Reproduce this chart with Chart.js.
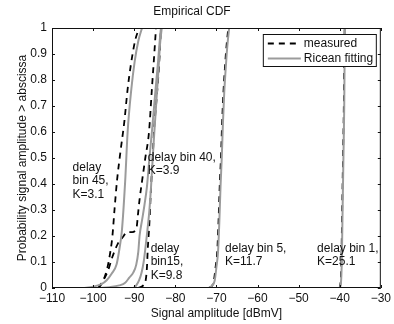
<!DOCTYPE html>
<html>
<head>
<meta charset="utf-8">
<script src="https://cdn.jsdelivr.net/npm/chart.js@4.4.1/dist/chart.umd.min.js"></script>
<style>
  html, body { margin: 0; padding: 0; background: #fff; }
</style>
</head>
<body>
<canvas id="cdf" width="394" height="324"></canvas>
<script>
// axis ticks
const xTicks = [-110, -100, -90, -80, -70, -60, -50, -40, -30];
const yTicks = [0, 0.1, 0.2, 0.3, 0.4, 0.5, 0.6, 0.7, 0.8, 0.9, 1];

/* ===========================
   CURVES (amplitude dBmV, probability)
=========================== */

// delay bin 45
const bin45MeasX = [-98.6, -97.5, -96.5, -95.8, -95.3, -94.8, -94.2, -93.3, -92.4, -91.6, -90.8, -89.8, -88.8];
const bin45MeasY = [0, 0.03, 0.08, 0.14, 0.2, 0.3, 0.41, 0.53, 0.64, 0.765, 0.86, 0.95, 1];
const bin45FitX = [-102.5, -100, -98, -96.7, -95.5, -94.3, -93.6, -93.0, -92.2, -91.6, -90.7, -89.9, -89.0, -88.1];
const bin45FitY = [0, 0.005, 0.015, 0.03, 0.055, 0.09, 0.15, 0.22, 0.41, 0.6, 0.765, 0.87, 0.95, 1];

// delay bin 40
const bin40MeasX = [-98.8, -97.5, -96.3, -95.3, -94.0, -92.8, -91.7, -90.5, -89.4, -89.1, -88.7, -88.1, -87.3, -86.4, -85.7, -85.2, -84.7];
const bin40MeasY = [0, 0.03, 0.07, 0.12, 0.17, 0.195, 0.215, 0.215, 0.235, 0.28, 0.34, 0.41, 0.5, 0.6, 0.765, 0.88, 1];
const bin40FitX = [-98.5, -96, -93.6, -92.2, -91.2, -90.2, -89.5, -89.0, -88.7, -88.1, -87.5, -86.9, -86.3, -85.7, -84.8, -84.2, -83.8, -83.5];
const bin40FitY = [0, 0.003, 0.01, 0.02, 0.04, 0.06, 0.09, 0.14, 0.2, 0.26, 0.32, 0.39, 0.5, 0.6, 0.765, 0.87, 0.95, 1];

// delay bin 15
const bin15MeasX = [-89.0, -87.8, -87.2, -86.9, -86.7, -86.5, -86.3, -85.9, -85.5, -85.2, -84.7, -84.2, -83.8, -83.5];
const bin15MeasY = [0, 0.01, 0.03, 0.08, 0.15, 0.2, 0.25, 0.39, 0.5, 0.6, 0.7, 0.8, 0.9, 1];
const bin15FitX = [-90.2, -89.5, -88.8, -88.2, -87.7, -87.3, -86.8, -86.3, -85.9, -85.5, -85.1, -84.6, -84.1, -83.7, -83.3];
const bin15FitY = [0, 0.01, 0.03, 0.06, 0.1, 0.15, 0.22, 0.3, 0.39, 0.5, 0.6, 0.72, 0.84, 0.94, 1];

// delay bin 5
const bin5MeasX = [-71.8, -71.0, -70.6, -70.2, -69.8, -69.5, -69.2, -68.9, -68.6, -68.3, -68.0, -67.7, -67.4, -67.1];
const bin5FitX = [-72.0, -71.0, -70.4, -70.0, -69.6, -69.3, -69.0, -68.7, -68.4, -68.1, -67.8, -67.5, -67.2, -66.9];
const bin5Y = [0, 0.01, 0.03, 0.08, 0.14, 0.25, 0.39, 0.5, 0.64, 0.75, 0.83, 0.9, 0.955, 1];

// delay bin 1
const bin1MeasX = [-40.1, -39.8, -39.6, -39.4, -39.2, -39.0, -38.9, -38.8];
const bin1FitX = [-40.0, -39.7, -39.5, -39.3, -39.1, -38.9, -38.8, -38.7];
const bin1Y = [0, 0.02, 0.1, 0.3, 0.5, 0.7, 0.9, 1];

// text labels: left x, first line y (data units)
const notes = [
  { x: -105.0, y: 0.464, lines: ['delay', 'bin 45,', 'K=3.1'] },
  { x: -86.7, y: 0.502, lines: ['delay bin 40,', 'K=3.9'] },
  { x: -86.0, y: 0.152, lines: ['delay', 'bin15,', 'K=9.8'] },
  { x: -67.9, y: 0.152, lines: ['delay bin 5,', 'K=11.7'] },
  { x: -45.5, y: 0.152, lines: ['delay bin 1,', 'K=25.1'] }
];

const FONT = '"Liberation Sans", Arial, Helvetica, sans-serif';
const GRAY = '#9b9b9b';
const INK = '#111';
const DASH = [6, 5];

function pts(xs, ys) {
  return xs.map((x, i) => ({ x, y: ys[i] }));
}

function measured(xs, ys) {
  return {
    label: 'measured',
    data: pts(xs, ys),
    borderColor: '#000',
    borderWidth: 1.8,
    borderDash: DASH,
    pointRadius: 0,
    cubicInterpolationMode: 'monotone',
    order: 2
  };
}

function fitted(xs, ys) {
  return {
    label: 'Ricean fitting',
    data: pts(xs, ys),
    borderColor: GRAY,
    borderWidth: 2,
    pointRadius: 0,
    cubicInterpolationMode: 'monotone',
    order: 1
  };
}

/* ===========================
   FRAME, TICKS, NOTES, LEGEND
=========================== */

const decorations = {
  id: 'decorations',
  afterDraw(chart) {
    const { ctx, chartArea: a, scales } = chart;
    const sx = scales.x, sy = scales.y;
    ctx.save();

    // box
    ctx.strokeStyle = INK;
    ctx.lineWidth = 1;
    ctx.strokeRect(a.left + 0.5, a.top + 0.5, a.right - a.left - 1, a.bottom - a.top - 1);

    // inward ticks on all four sides
    const len = 3;
    ctx.beginPath();
    sx.ticks.forEach(t => {
      const px = Math.round(sx.getPixelForValue(t.value)) + 0.5;
      ctx.moveTo(px, a.bottom); ctx.lineTo(px, a.bottom - len);
      ctx.moveTo(px, a.top); ctx.lineTo(px, a.top + len);
    });
    sy.ticks.forEach(t => {
      const py = Math.round(sy.getPixelForValue(t.value)) + 0.5;
      ctx.moveTo(a.left, py); ctx.lineTo(a.left + len, py);
      ctx.moveTo(a.right, py); ctx.lineTo(a.right - len, py);
    });
    ctx.stroke();

    // curve notes
    ctx.fillStyle = INK;
    ctx.font = '12px ' + FONT;
    ctx.textAlign = 'left';
    ctx.textBaseline = 'middle';
    notes.forEach(n => {
      const px = sx.getPixelForValue(n.x);
      const py = sy.getPixelForValue(n.y);
      n.lines.forEach((line, i) => ctx.fillText(line, px, py + i * 13.5));
    });

    // legend
    const w = 113, h = 32;
    const lx = a.right - 5 - w, ly = a.top + 6;
    ctx.fillStyle = '#fff';
    ctx.fillRect(lx, ly, w, h);
    ctx.strokeStyle = INK;
    ctx.lineWidth = 1;
    ctx.strokeRect(lx + 0.5, ly + 0.5, w, h);

    ctx.lineWidth = 1.8;
    ctx.strokeStyle = '#000';
    ctx.setLineDash(DASH);
    ctx.beginPath();
    ctx.moveTo(lx + 5, ly + 9.5); ctx.lineTo(lx + 38, ly + 9.5);
    ctx.stroke();
    ctx.setLineDash([]);
    ctx.lineWidth = 2;
    ctx.strokeStyle = GRAY;
    ctx.beginPath();
    ctx.moveTo(lx + 5, ly + 24.5); ctx.lineTo(lx + 38, ly + 24.5);
    ctx.stroke();

    ctx.fillStyle = INK;
    ctx.fillText('measured', lx + 41, ly + 9.5);
    ctx.fillText('Ricean fitting', lx + 41, ly + 24.5);

    ctx.restore();
  }
};

/* ===========================
   CHART
=========================== */

new Chart(document.getElementById('cdf'), {
  type: 'line',
  data: {
    datasets: [
      measured(bin45MeasX, bin45MeasY),
      fitted(bin45FitX, bin45FitY),
      measured(bin40MeasX, bin40MeasY),
      fitted(bin40FitX, bin40FitY),
      measured(bin15MeasX, bin15MeasY),
      fitted(bin15FitX, bin15FitY),
      measured(bin5MeasX, bin5Y),
      fitted(bin5FitX, bin5Y),
      measured(bin1MeasX, bin1Y),
      fitted(bin1FitX, bin1Y)
    ]
  },
  options: {
    responsive: false,
    animation: false,
    devicePixelRatio: 1,
    layout: { padding: { left: 0, right: 10, top: 0, bottom: 0 } },
    plugins: {
      legend: { display: false },
      tooltip: { enabled: false },
      title: {
        display: true,
        text: 'Empirical CDF',
        color: INK,
        font: { family: FONT, size: 12, weight: 'normal' },
        padding: { top: 4, bottom: 9.6 }
      }
    },
    scales: {
      x: {
        type: 'linear',
        min: -110,
        max: -30,
        afterBuildTicks: s => { s.ticks = xTicks.map(v => ({ value: v })); },
        afterFit: s => { s.height = 36; },
        grid: { display: false, drawTicks: false },
        border: { display: false },
        ticks: {
          color: INK,
          padding: 3,
          maxRotation: 0,
          font: { family: FONT, size: 12 },
          callback: v => (v < 0 ? '\u2212' : '') + Math.abs(v)
        },
        title: {
          display: true,
          text: 'Signal amplitude [dBmV]',
          color: INK,
          font: { family: FONT, size: 12 },
          padding: { top: 0, bottom: 3 }
        }
      },
      y: {
        type: 'linear',
        min: 0,
        max: 1,
        afterBuildTicks: s => { s.ticks = yTicks.map(v => ({ value: v })); },
        afterFit: s => { s.width = 52; },
        grid: { display: false, drawTicks: false },
        border: { display: false },
        ticks: {
          color: INK,
          padding: 5,
          font: { family: FONT, size: 12 },
          callback: v => (v === 0 || v === 1) ? String(v) : v.toFixed(1)
        },
        title: {
          display: true,
          text: 'Probability signal amplitude > abscissa',
          color: INK,
          font: { family: FONT, size: 12 },
          padding: { top: 15, bottom: 0 }
        }
      }
    }
  },
  plugins: [decorations]
});
</script>
</body>
</html>
